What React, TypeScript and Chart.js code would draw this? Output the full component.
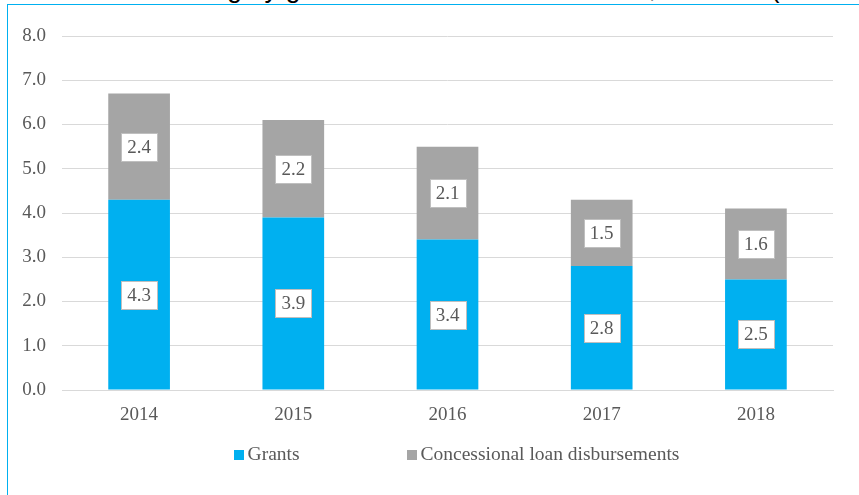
import React, { useEffect, useRef } from "react";
import { Chart, registerables } from "chart.js";

Chart.register(...registerables);

const categories = ["2014", "2015", "2016", "2017", "2018"];
const grants = [4.3, 3.9, 3.4, 2.8, 2.5];
const loans = [2.4, 2.2, 2.1, 1.5, 1.6];
const seriesNames = ["Grants", "Concessional loan disbursements"];
const seriesColors = ["#00B0F0", "#A5A5A5"];
const yMin = 0;
const yMax = 8;
const yStep = 1;
const titleText = "Financing by grants and concessional loans, 2014-18 (US$ billion)";

const FONT = '"Liberation Serif", "Times New Roman", serif';
const TEXT_COLOR = "#595959";

const boxLabelPlugin = {
  id: "boxLabels",
  afterDatasetsDraw(chart: any) {
    const ctx = chart.ctx;
    ctx.save();
    ctx.font = `19px ${FONT}`;
    ctx.textAlign = "center";
    ctx.textBaseline = "middle";
    chart.data.datasets.forEach((ds: any, di: number) => {
      const meta = chart.getDatasetMeta(di);
      meta.data.forEach((el: any, i: number) => {
        const v = ds.data[i];
        const txt = Number(v).toFixed(1);
        const { x, y, base } = el.getProps(["x", "y", "base"], true);
        const cy = (y + base) / 2;
        const w = Math.round(ctx.measureText(txt).width + 12);
        const h = 28;
        const left = Math.round(x - w / 2) + 0.5;
        const top = Math.round(cy - h / 2) + 0.5;
        ctx.fillStyle = "#FFFFFF";
        ctx.fillRect(left, top, w, h);
        ctx.strokeStyle = "#BFBFBF";
        ctx.lineWidth = 1;
        ctx.strokeRect(left, top, w, h);
        ctx.fillStyle = TEXT_COLOR;
        ctx.fillText(txt, x, cy + 1);
      });
    });
    ctx.restore();
  },
};

const legendPlugin = {
  id: "customLegend",
  afterDraw(chart: any) {
    const ctx = chart.ctx;
    const area = chart.chartArea;
    ctx.save();
    ctx.font = `19.5px ${FONT}`;
    ctx.textBaseline = "middle";
    ctx.textAlign = "left";
    const box = 10;
    const gap = 4;
    const itemGap = 107;
    const items = chart.data.datasets.map((ds: any) => ({
      text: ds.label,
      color: ds.backgroundColor,
      w: box + gap + ctx.measureText(ds.label).width,
    }));
    const total =
      items.reduce((s: number, it: any) => s + it.w, 0) + itemGap * (items.length - 1);
    const cx = (area.left + area.right) / 2 + 9;
    let x = cx - total / 2;
    const y = area.bottom + 65;
    items.forEach((it: any) => {
      ctx.fillStyle = it.color;
      ctx.fillRect(Math.round(x), Math.round(y - box / 2), box, box);
      ctx.fillStyle = TEXT_COLOR;
      ctx.fillText(it.text, x + box + gap, y);
      x += it.w + itemGap;
    });
    ctx.restore();
  },
};

export default function App() {
  const canvasRef = useRef<HTMLCanvasElement | null>(null);

  useEffect(() => {
    if (!canvasRef.current) return;
    const chart = new Chart(canvasRef.current, {
      type: "bar",
      data: {
        labels: categories,
        datasets: [
          {
            label: seriesNames[0],
            data: grants,
            backgroundColor: seriesColors[0],
            categoryPercentage: 0.4,
            barPercentage: 1,
          },
          {
            label: seriesNames[1],
            data: loans,
            backgroundColor: seriesColors[1],
            categoryPercentage: 0.4,
            barPercentage: 1,
          },
        ],
      },
      options: {
        animation: false,
        responsive: false,
        devicePixelRatio: 1,
        layout: { padding: { top: 31, right: 26, bottom: 65, left: 0 } },
        scales: {
          x: {
            stacked: true,
            grid: { display: false },
            border: { color: "#D9D9D9" },
            ticks: { font: { family: FONT, size: 19 }, color: TEXT_COLOR, padding: 6 },
            afterFit(s: any) {
              s.height = 40;
            },
          },
          y: {
            stacked: true,
            min: yMin,
            max: yMax,
            ticks: {
              stepSize: yStep,
              callback: (v: any) => Number(v).toFixed(1),
              font: { family: FONT, size: 19 },
              color: TEXT_COLOR,
              padding: 16,
            },
            grid: { color: "#D9D9D9", drawTicks: false, lineWidth: 1 },
            border: { display: false },
            afterFit(s: any) {
              s.width = 54;
            },
          },
        },
        plugins: {
          legend: { display: false },
          tooltip: { enabled: false },
          title: { display: false },
        },
      },
      plugins: [boxLabelPlugin, legendPlugin],
    } as any);
    return () => chart.destroy();
  }, []);

  return (
    <div
      style={{
        position: "fixed",
        left: 0,
        top: 0,
        width: 859,
        height: 495,
        background: "#FFFFFF",
        overflow: "hidden",
      }}
    >
      <div
        style={{
          position: "absolute",
          left: 0,
          top: 0,
          width: 859,
          height: 4,
          overflow: "hidden",
        }}
      >
        <div
          style={{
            position: "absolute",
            left: 125,
            top: -25,
            whiteSpace: "nowrap",
            fontFamily: '"Liberation Sans", Arial, sans-serif',
            fontSize: 27,
            lineHeight: "27px",
            color: "#000000",
          }}
        >
          {titleText}
        </div>
      </div>
      <div
        style={{
          position: "absolute",
          left: 7,
          top: 4,
          width: 852,
          height: 491,
          borderTop: "1px solid #00B0F0",
          borderLeft: "1px solid #00B0F0",
          boxSizing: "border-box",
        }}
      />
      <canvas
        ref={canvasRef}
        width={851}
        height={490}
        style={{ position: "absolute", left: 8, top: 5, width: 851, height: 490 }}
      />
    </div>
  );
}
